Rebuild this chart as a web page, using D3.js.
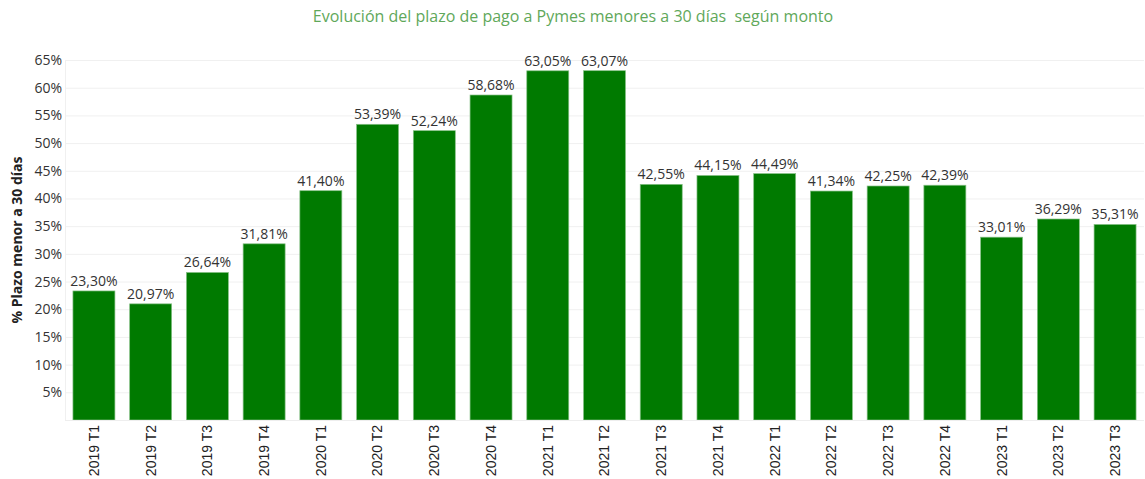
<!DOCTYPE html>
<html>
<head>
<meta charset="utf-8">
<script src="https://cdn.jsdelivr.net/npm/d3@7"></script>
<style>
  body { margin: 0; background: #fff; }
  svg { display: block; font-family: "Open Sans", "Noto Sans", sans-serif; }
</style>
</head>
<body>
<script>
// periods and % of SME payments under 30 days
const periods = ['2019 T1','2019 T2','2019 T3','2019 T4','2020 T1','2020 T2','2020 T3','2020 T4',
  '2021 T1','2021 T2','2021 T3','2021 T4','2022 T1','2022 T2','2022 T3','2022 T4','2023 T1','2023 T2','2023 T3'];
const values = [23.30,20.97,26.64,31.81,41.40,53.39,52.24,58.68,63.05,63.07,42.55,44.15,44.49,41.34,42.25,42.39,33.01,36.29,35.31];
const yTicks = [5,10,15,20,25,30,35,40,45,50,55,60,65];

const w = 1145, h = 479;
const padL = 65, padR = 1144, padT = 60, padB = 420;

const svg = d3.select('body').append('svg').attr('width', w).attr('height', h);

const x = d3.scaleBand().domain(periods).range([padL, padR]).paddingInner(0.26).paddingOuter(0.14);
const y = d3.scaleLinear().domain([0, 65]).range([padB, padT]);

// title
svg.append('text').attr('x', 573).attr('y', 22).attr('text-anchor', 'middle')
  .style('fill', '#5fa85a').style('font-size', '16px').style('white-space', 'pre')
  .text('Evolución del plazo de pago a Pymes menores a 30 días  según monto');

// gridlines
svg.append('g').selectAll('line').data(yTicks).enter().append('line')
  .attr('x1', padL).attr('x2', padR).attr('y1', d => y(d) + 0.5).attr('y2', d => y(d) + 0.5)
  .style('stroke', '#f0f0f0');

// y axis
const yAxis = d3.axisLeft(y).tickValues(yTicks).tickFormat(d => d + '%').tickSize(0).tickPadding(3);
const yg = svg.append('g').attr('transform', 'translate(' + padL + ',0)').call(yAxis);
yg.select('.domain').style('stroke', '#f0f0f0');
yg.selectAll('text').style('font-size', '14px').style('fill', '#333').style('font-family', '"Open Sans", sans-serif');

svg.append('text').attr('transform', 'translate(22,' + 240 + ') rotate(-90)')
  .attr('text-anchor', 'middle').style('font-size', '14px').style('font-weight', 'bold').style('fill', '#222')
  .text('% Plazo menor a 30 días');

// bars
svg.append('g').selectAll('rect').data(values).enter().append('rect')
  .attr('x', (d, i) => x(periods[i]))
  .attr('y', d => y(d))
  .attr('width', x.bandwidth())
  .attr('height', d => padB - y(d))
  .style('fill', '#007a00')
  .style('stroke', '#86c086').style('stroke-width', 0.7);

// value labels
svg.append('g').selectAll('text').data(values).enter().append('text')
  .attr('x', (d, i) => x(periods[i]) + x.bandwidth() / 2)
  .attr('y', d => y(d) - 5)
  .attr('text-anchor', 'middle')
  .style('font-size', '14px').style('fill', '#333')
  .text(d => d.toFixed(2).replace('.', ',') + '%');

// baseline
svg.append('line').attr('x1', padL).attr('x2', padR).attr('y1', padB + 0.5).attr('y2', padB + 0.5)
  .style('stroke', '#eeeeee');

// x axis
const xAxis = d3.axisBottom(x).tickSize(0).tickPadding(0);
const xg = svg.append('g').attr('transform', 'translate(0,' + padB + ')').call(xAxis);
xg.select('.domain').remove();
xg.selectAll('text')
  .attr('transform', 'rotate(-90)')
  .attr('x', -5).attr('y', 0).attr('dy', '0.35em')
  .attr('text-anchor', 'end')
  .style('font-size', '14px').style('fill', '#222').style('font-family', '"Liberation Sans", Arial, sans-serif');
</script>
</body>
</html>
